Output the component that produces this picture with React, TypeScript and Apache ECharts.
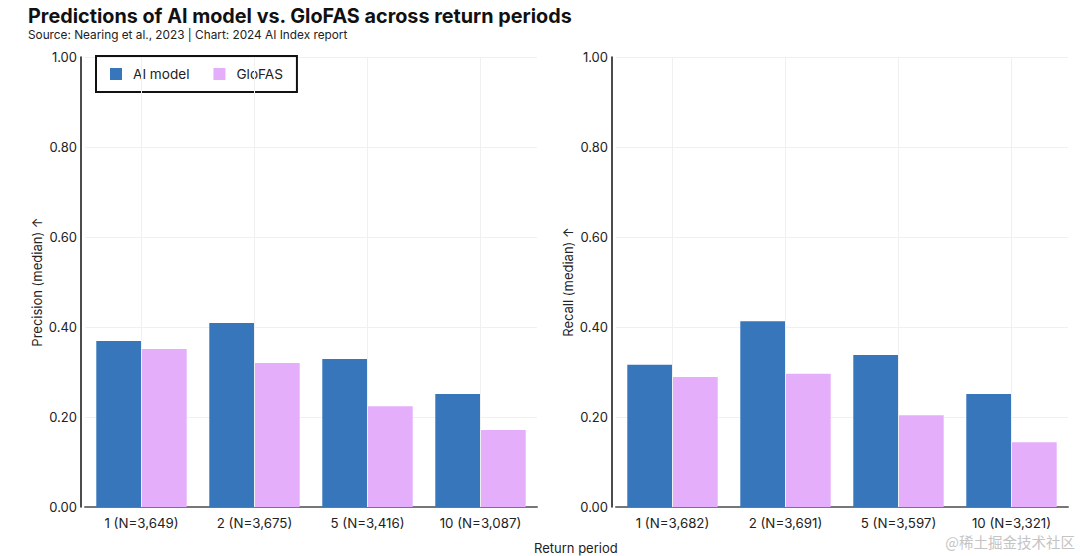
import React, { useEffect, useRef } from "react";
import * as echarts from "echarts";

const categoriesPrecision = ["1 (N=3,649)", "2 (N=3,675)", "5 (N=3,416)", "10 (N=3,087)"];
const categoriesRecall = ["1 (N=3,682)", "2 (N=3,691)", "5 (N=3,597)", "10 (N=3,321)"];
const precisionAI = [0.369, 0.409, 0.329, 0.251];
const precisionGloFAS = [0.351, 0.32, 0.224, 0.171];
const recallAI = [0.316, 0.413, 0.338, 0.251];
const recallGloFAS = [0.289, 0.296, 0.204, 0.144];
const seriesNames = ["AI model", "GloFAS"];

const BLUE = "#3776bb";
const PINK = "#e4aefb";
const FONT = "Inter, 'Noto Sans', sans-serif";

export default function App() {
  const ref = useRef<HTMLDivElement>(null);
  useEffect(() => {
    if (!ref.current) return;
    const chart = echarts.init(ref.current, undefined, { renderer: "svg" });
    const yAxisBase = (name: string, gridIndex: number) => ({
      type: "value",
      gridIndex,
      min: 0,
      max: 1,
      interval: 0.2,
      name,
      nameLocation: "middle",
      nameGap: 38,
      nameTextStyle: { fontSize: 13, color: "#222", fontFamily: FONT },
      axisLine: { show: true, lineStyle: { color: "#111", width: 1.5 } },
      axisTick: { show: false },
      axisLabel: {
        fontSize: 13,
        color: "#222",
        fontFamily: FONT,
        formatter: (v: number) => v.toFixed(2),
        margin: 4,
      },
      splitLine: { show: true, lineStyle: { color: "#f0f0f0", width: 1 } },
    });
    const xAxisBase = (data: string[], gridIndex: number) => ({
      type: "category",
      gridIndex,
      data,
      axisLine: { show: true, lineStyle: { color: "#777", width: 2 } },
      axisTick: { show: false },
      axisLabel: { fontSize: 13.3, color: "#222", fontFamily: FONT, margin: 9 },
      splitLine: { show: false },
    });
    const barBase = {
      type: "bar",
      barGap: "0%",
      barCategoryGap: "20%",
    };
    chart.setOption({
      animation: false,
      backgroundColor: "#fff",
      title: {
        text: "Predictions of AI model vs. GloFAS across return periods",
        subtext: "Source: Nearing et al., 2023 | Chart: 2024 AI Index report",
        left: 23,
        top: 1,
        itemGap: 3,
        textStyle: { fontSize: 19.8, fontWeight: "bold", color: "#111", fontFamily: FONT },
        subtextStyle: { fontSize: 11.8, color: "#222", fontFamily: FONT },
      },
      legend: {
        data: seriesNames,
        left: 96,
        top: 56,
        orient: "horizontal",
        icon: "rect",
        itemWidth: 12,
        itemHeight: 12,
        itemGap: 24,
        padding: [11, 14, 11, 14],
        borderColor: "#111",
        borderWidth: 2,
        textStyle: { fontSize: 13.6, color: "#222", fontFamily: FONT, padding: [0, 0, 0, 6] },
      },
      grid: [
        { left: 85, top: 57, width: 452, height: 450 },
        { left: 616, top: 57, width: 452, height: 450 },
      ],
      xAxis: [xAxisBase(categoriesPrecision, 0), xAxisBase(categoriesRecall, 1)],
      yAxis: [
        { ...yAxisBase("Precision (median) ↑", 0), offset: 4 },
        { ...yAxisBase("Recall (median) ↑", 1), offset: 4 },
      ],
      series: [
        { ...barBase, name: seriesNames[0], xAxisIndex: 0, yAxisIndex: 0, data: precisionAI, itemStyle: { color: BLUE } },
        { ...barBase, name: seriesNames[1], xAxisIndex: 0, yAxisIndex: 0, data: precisionGloFAS, itemStyle: { color: PINK } },
        { ...barBase, name: seriesNames[0], xAxisIndex: 1, yAxisIndex: 1, data: recallAI, itemStyle: { color: BLUE } },
        { ...barBase, name: seriesNames[1], xAxisIndex: 1, yAxisIndex: 1, data: recallGloFAS, itemStyle: { color: PINK } },
        {
          type: "line",
          xAxisIndex: 0,
          yAxisIndex: 0,
          data: [],
          silent: true,
          markLine: {
            silent: true,
            symbol: "none",
            label: { show: false },
            lineStyle: { color: "#f0f0f0", type: "solid", width: 1 },
            data: categoriesPrecision.map((c) => ({ xAxis: c })),
          },
        },
        {
          type: "line",
          xAxisIndex: 1,
          yAxisIndex: 1,
          data: [],
          silent: true,
          markLine: {
            silent: true,
            symbol: "none",
            label: { show: false },
            lineStyle: { color: "#f0f0f0", type: "solid", width: 1 },
            data: categoriesRecall.map((c) => ({ xAxis: c })),
          },
        },
      ],
      graphic: [
        {
          type: "text",
          left: 534,
          top: 541,
          style: { text: "Return period", fontSize: 13, fill: "#222", fontFamily: FONT },
        },
        {
          type: "text",
          right: 5,
          top: 534,
          style: { text: "@稀土掘金技术社区", fontSize: 14.5, fill: "#c4c4c4", fontFamily: "'Noto Sans CJK SC', sans-serif" },
        },
      ],
    });
    return () => chart.dispose();
  }, []);
  return <div ref={ref} style={{ width: 1080, height: 556, position: "absolute", left: 0, top: 0 }} />;
}
